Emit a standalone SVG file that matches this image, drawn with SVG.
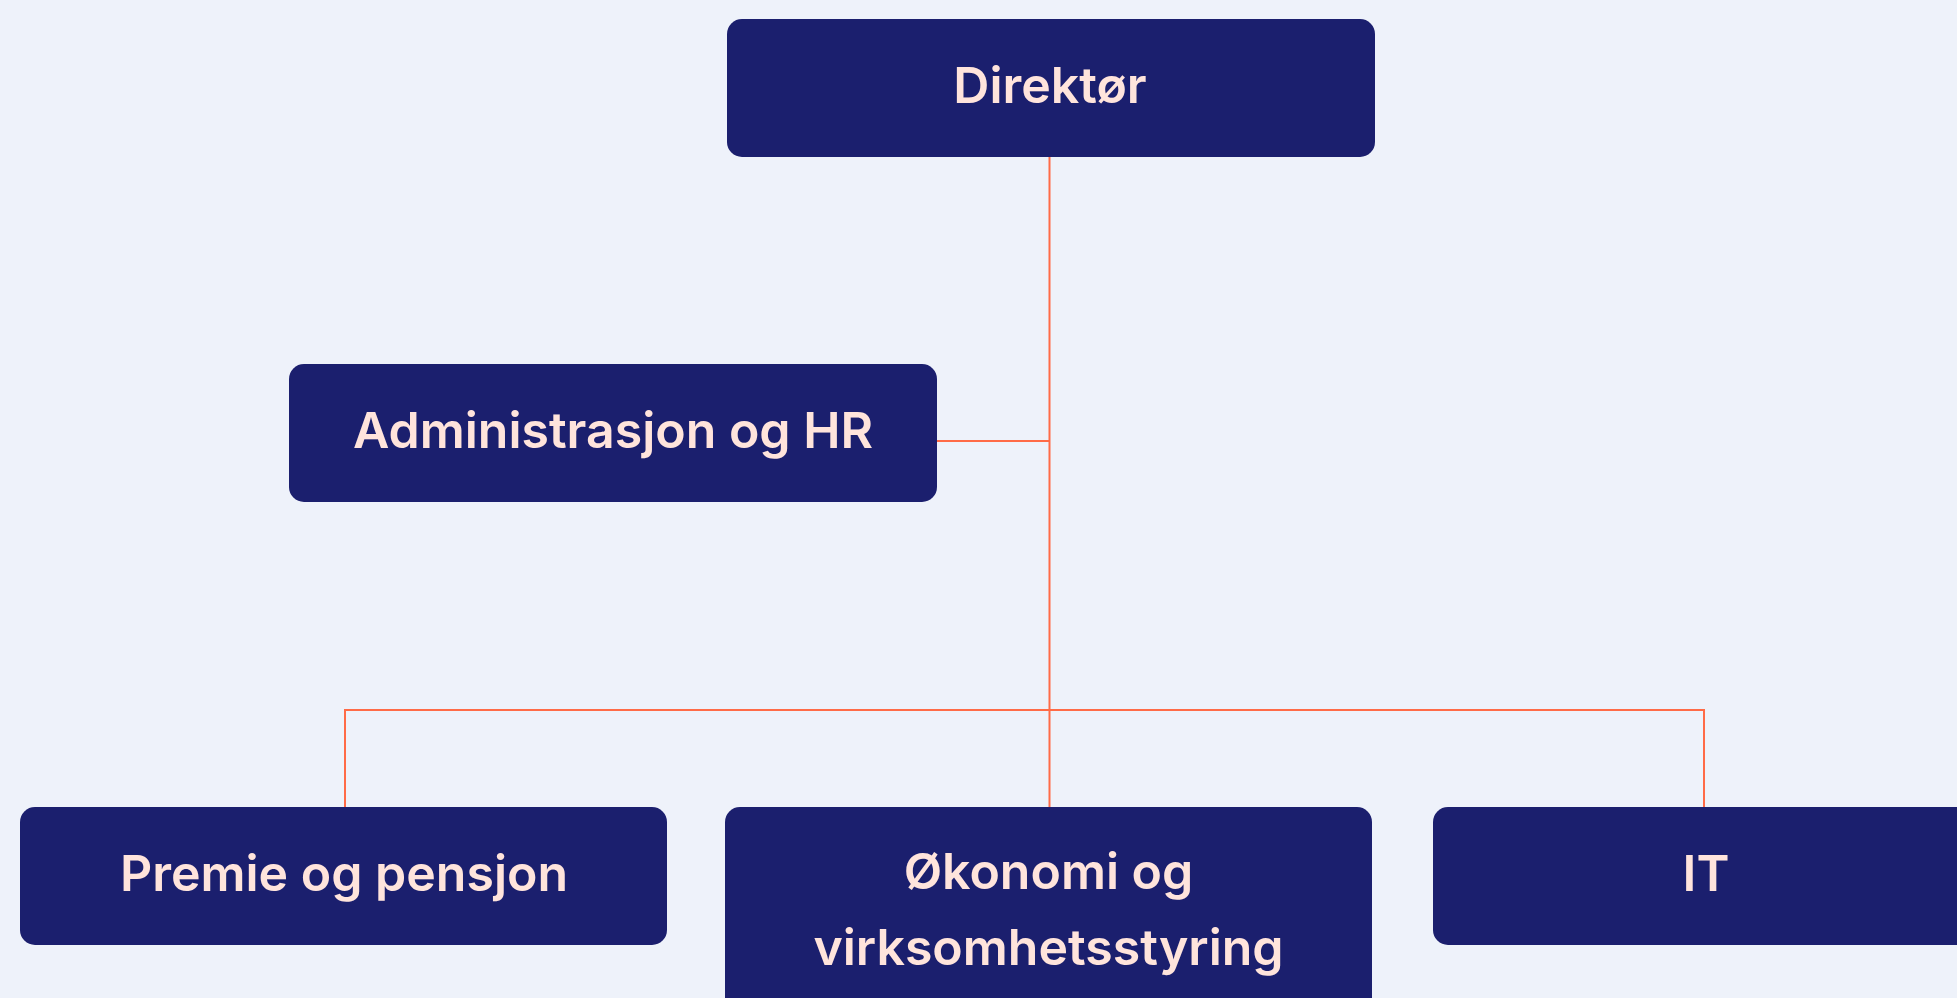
<svg xmlns="http://www.w3.org/2000/svg" width="1957" height="998" viewBox="0 0 1957 998">
<style>
.box{fill:#1b1f6e}
.lbl{font-family:Inter,"Noto Sans","Liberation Sans",sans-serif;font-weight:600;font-size:50px;fill:#ffe4dc;text-anchor:middle}
.ln{stroke:#ff6b47;stroke-width:2;fill:none}
</style>
<rect width="1957" height="998" fill="#eef2fa"/>
<g id="connectors">
<path class="ln" d="M1049.5 157V807"/>
<path class="ln" d="M937 441H1049.5"/>
<path class="ln" d="M345 807V710H1704V807"/>
</g>
<g id="direktor">
<rect class="box" x="727" y="19" width="648" height="138" rx="15"/>
<text class="lbl" x="1050" y="103">Direktør</text>
</g>
<g id="admin">
<rect class="box" x="289" y="364" width="648" height="138" rx="15"/>
<text class="lbl" x="613" y="448">Administrasjon og HR</text>
</g>
<g id="premie">
<rect class="box" x="20" y="807" width="647" height="138" rx="15"/>
<text class="lbl" x="344" y="891">Premie og pensjon</text>
</g>
<g id="okonomi">
<rect class="box" x="725" y="807" width="647" height="220" rx="15"/>
<text class="lbl" x="1048.5" y="889">Økonomi og</text>
<text class="lbl" x="1048.5" y="965">virksomhetsstyring</text>
</g>
<g id="it">
<rect class="box" x="1433" y="807" width="648" height="138" rx="15"/>
<text class="lbl" x="1706" y="891">IT</text>
</g>
</svg>
